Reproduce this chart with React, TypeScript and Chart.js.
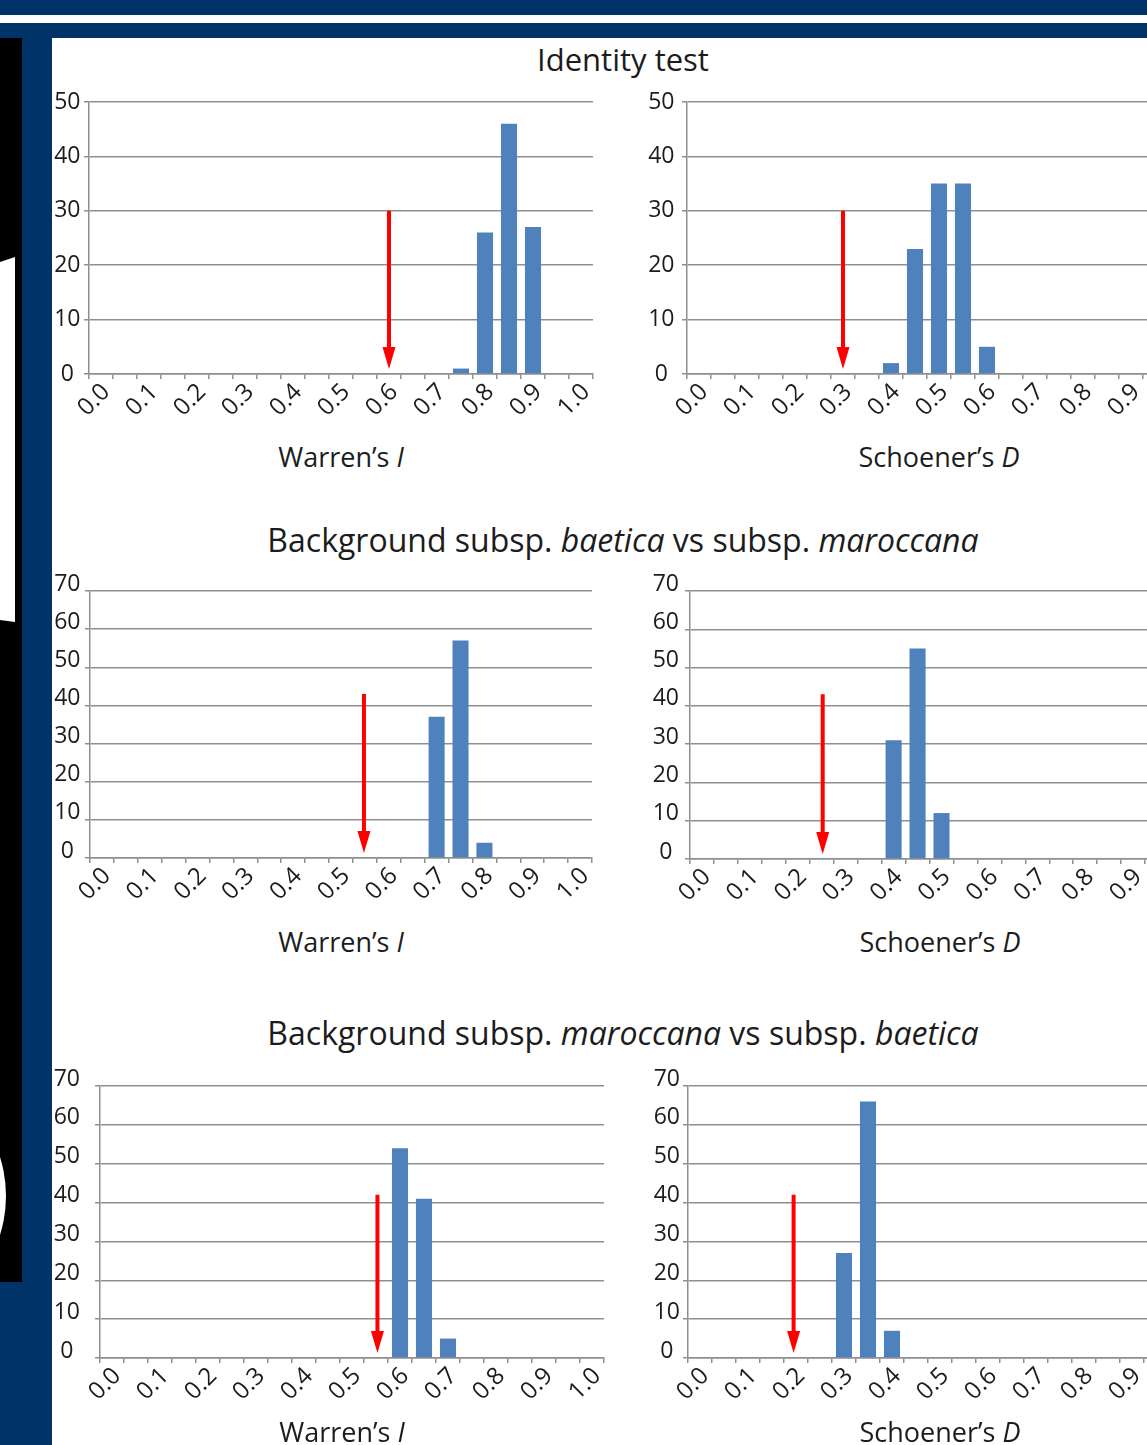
import React, { useEffect, useRef } from 'react';
import { Chart, registerables } from 'chart.js';

Chart.register(...registerables);

// ---------- data ----------
const BIN_LABELS = ['0.0', '0.05', '0.1', '0.15', '0.2', '0.25', '0.3', '0.35', '0.4', '0.45', '0.5', '0.55', '0.6', '0.65', '0.7', '0.75', '0.8', '0.85', '0.9', '0.95', '1.0'];
const BIN_WIDTH = 0.05;

const identityWarrenI = [0, 0, 0, 0, 0, 0, 0, 0, 0, 0, 0, 0, 0, 0, 0, 1, 26, 46, 27, 0, 0];
const identitySchoenerD = [0, 0, 0, 0, 0, 0, 0, 0, 2, 23, 35, 35, 5, 0, 0, 0, 0, 0, 0, 0, 0];
const baeticaVsMaroccanaI = [0, 0, 0, 0, 0, 0, 0, 0, 0, 0, 0, 0, 0, 0, 37, 57, 4, 0, 0, 0, 0];
const baeticaVsMaroccanaD = [0, 0, 0, 0, 0, 0, 0, 0, 31, 55, 12, 0, 0, 0, 0, 0, 0, 0, 0, 0, 0];
const maroccanaVsBaeticaI = [0, 0, 0, 0, 0, 0, 0, 0, 0, 0, 0, 0, 54, 41, 5, 0, 0, 0, 0, 0, 0];
const maroccanaVsBaeticaD = [0, 0, 0, 0, 0, 0, 27, 66, 7, 0, 0, 0, 0, 0, 0, 0, 0, 0, 0, 0, 0];

// observed values (red arrows): x position and arrow top (count units)
const observedX = [0.6, 0.3, 0.548, 0.252, 0.553, 0.195];
const observedTop = [30, 30, 43, 43, 42, 42];

const Y_MAX = [50, 50, 70, 70, 70, 70];
const Y_STEP = [5, 5, 10, 10, 10, 10];

const ROW_TITLES = ['Identity test', 'Background subsp. *baetica* vs subsp. *maroccana*', 'Background subsp. *maroccana* vs subsp. *baetica*'];

// ---------- style ----------
const FONT = "'Open Sans', 'Noto Sans', sans-serif";
const TEXT = '#1c1c1c';
const GRID = '#8f8f8f';
const BAR = '#4f81bd';
const ARROW = '#ff0000';
const NAVY = '#003468';

const Y_W = 60;
const PAD_T = 40;
const PAD_R = 22;
const X_H = 60;

type Geom = { left: number; right: number; top: number; bottom: number; yPad: number; yOff: number };

const GEOMS: Geom[] = [
  { left: 89, right: 593, top: 102, bottom: 374, yPad: 3.5, yOff: 0 },
  { left: 687, right: 1191, top: 102, bottom: 374, yPad: 7.5, yOff: 0 },
  { left: 90, right: 592, top: 591, bottom: 858, yPad: 4.5, yOff: -7 },
  { left: 690, right: 1193, top: 591, bottom: 859, yPad: 6, yOff: -7 },
  { left: 100, right: 604, top: 1086, bottom: 1358, yPad: 15, yOff: -7 },
  { left: 688, right: 1192, top: 1086, bottom: 1358, yPad: 3, yOff: -7 },
];

const arrowPlugin = {
  id: 'obsArrow',
  afterDatasetsDraw(chart: any, _args: any, opts: any) {
    const { ctx, scales } = chart;
    const x = scales.x.getPixelForValue(opts.value / BIN_WIDTH);
    const yTop = scales.y.getPixelForValue(opts.top);
    const yTip = scales.y.getPixelForValue(0) - 5;
    const headH = 22;
    const headW = 13;
    ctx.save();
    ctx.strokeStyle = ARROW;
    ctx.fillStyle = ARROW;
    ctx.lineWidth = 4;
    ctx.beginPath();
    ctx.moveTo(x, yTop);
    ctx.lineTo(x, yTip - headH + 2);
    ctx.stroke();
    ctx.beginPath();
    ctx.moveTo(x - headW / 2, yTip - headH);
    ctx.lineTo(x + headW / 2, yTip - headH);
    ctx.lineTo(x, yTip);
    ctx.closePath();
    ctx.fill();
    ctx.restore();
  },
};

function Histogram({ g, values, yMax, yStep, obs, obsTop }: { g: Geom; values: number[]; yMax: number; yStep: number; obs: number; obsTop: number }) {
  const ref = useRef<HTMLCanvasElement>(null);
  const W = Y_W + (g.right - g.left) + PAD_R;
  const H = PAD_T + (g.bottom - g.top) + X_H;
  useEffect(() => {
    if (!ref.current) return;
    const yFont = { family: FONT, size: 23 };
    const xFont = { family: FONT, size: 24 };
    const chart = new Chart(ref.current, {
      type: 'bar',
      data: {
        labels: BIN_LABELS,
        datasets: [{ data: values, backgroundColor: BAR, barPercentage: 0.67, categoryPercentage: 1, borderWidth: 0 }],
      },
      options: {
        animation: false,
        responsive: false,
        maintainAspectRatio: false,
        events: [],
        layout: { padding: { top: PAD_T, right: PAD_R, left: 0, bottom: 0 } },
        plugins: {
          legend: { display: false },
          tooltip: { enabled: false },
          obsArrow: { value: obs, top: obsTop },
        } as any,
        scales: {
          x: {
            type: 'category',
            offset: true,
            grid: { offset: true, drawOnChartArea: false, drawTicks: true, tickLength: 5, color: GRID, lineWidth: 1.5 },
            border: { display: true, color: GRID, width: 1.5 },
            ticks: {
              autoSkip: false,
              minRotation: 45,
              maxRotation: 45,
              padding: -1,
              labelOffset: 5,
              color: TEXT,
              font: xFont,
              callback: (_v: any, i: number) => (i % 2 === 0 ? BIN_LABELS[i] : ''),
            },
            afterFit: (s: any) => {
              s.height = X_H;
            },
          },
          y: {
            min: 0,
            max: yMax,
            grid: {
              color: (c: any) => (c.tick && c.tick.value % 10 === 0 ? GRID : 'rgba(0,0,0,0)'),
              tickColor: GRID,
              lineWidth: 1.5,
              tickLength: 5,
              drawTicks: true,
            },
            border: { display: true, color: GRID, width: 1.5 },
            ticks: {
              stepSize: yStep,
              crossAlign: 'center',
              padding: g.yPad,
              labelOffset: g.yOff,
              color: TEXT,
              font: yFont,
              callback: (v: any) => (Number(v) % 10 === 0 ? String(v) : ''),
            },
            afterFit: (s: any) => {
              s.width = Y_W;
            },
          },
        },
      },
      plugins: [arrowPlugin],
    } as any);
    return () => chart.destroy();
  }, []);
  return (
    <canvas
      ref={ref}
      width={W}
      height={H}
      style={{ position: 'absolute', left: g.left - Y_W, top: g.top - PAD_T, width: W, height: H, display: 'block' }}
    />
  );
}

function RichText({ text }: { text: string }) {
  const parts = text.split('*');
  return (
    <>
      {parts.map((p, i) => (i % 2 === 1 ? <i key={i}>{p}</i> : <span key={i}>{p}</span>))}
    </>
  );
}

function Label({ cx, cy, size, text }: { cx: number; cy: number; size: number; text: string }) {
  return (
    <div
      style={{
        position: 'absolute',
        left: cx,
        top: cy - 0.531 * size,
        transform: 'translateX(-50%)',
        fontFamily: FONT,
        fontSize: size,
        lineHeight: `${size}px`,
        color: TEXT,
        whiteSpace: 'nowrap',
      }}
    >
      <RichText text={text} />
    </div>
  );
}

const SERIES = [identityWarrenI, identitySchoenerD, baeticaVsMaroccanaI, baeticaVsMaroccanaD, maroccanaVsBaeticaI, maroccanaVsBaeticaD];
const AXIS_TITLES = ['Warren\u2019s *I*', 'Schoener\u2019s *D*'];
const TITLE_POS = [
  { cx: 623, cy: 60.5, size: 31 },
  { cx: 623, cy: 541, size: 32 },
  { cx: 623, cy: 1034, size: 32 },
];
const AXIS_TITLE_POS = [
  { cx: 341, cy: 457 },
  { cx: 939, cy: 457 },
  { cx: 341, cy: 942 },
  { cx: 940, cy: 942 },
  { cx: 342, cy: 1432 },
  { cx: 940, cy: 1432 },
];

export default function App() {
  return (
    <div style={{ position: 'absolute', left: 0, top: 0, width: 1147, height: 1445, overflow: 'hidden', background: '#fff' }}>
      {/* frame */}
      <div style={{ position: 'absolute', left: 0, top: 0, width: 1147, height: 15, background: NAVY }} />
      <div style={{ position: 'absolute', left: 0, top: 23, width: 1147, height: 15, background: NAVY }} />
      <div style={{ position: 'absolute', left: 0, top: 38, width: 52, height: 1407, background: NAVY }} />
      <div style={{ position: 'absolute', left: 0, top: 38, width: 22, height: 1244, background: '#000', overflow: 'hidden' }}>
        <div
          style={{
            position: 'absolute',
            left: 0,
            top: 219,
            width: 15,
            height: 365,
            background: '#fff',
            clipPath: 'polygon(0 5px, 100% 0, 100% 100%, 0 calc(100% - 2px))',
          }}
        />
        <div
          style={{
            position: 'absolute',
            left: -254,
            top: 1196 - 38 - 130,
            width: 260,
            height: 260,
            borderRadius: '50%',
            background: '#fff',
          }}
        />
      </div>
      {/* titles */}
      {ROW_TITLES.map((t, i) => (
        <Label key={'t' + i} cx={TITLE_POS[i].cx} cy={TITLE_POS[i].cy} size={TITLE_POS[i].size} text={t} />
      ))}
      {/* charts */}
      {GEOMS.map((g, i) => (
        <Histogram key={'c' + i} g={g} values={SERIES[i]} yMax={Y_MAX[i]} yStep={Y_STEP[i]} obs={observedX[i]} obsTop={observedTop[i]} />
      ))}
      {AXIS_TITLE_POS.map((p, i) => (
        <Label key={'a' + i} cx={p.cx} cy={p.cy} size={27} text={AXIS_TITLES[i % 2]} />
      ))}
    </div>
  );
}
